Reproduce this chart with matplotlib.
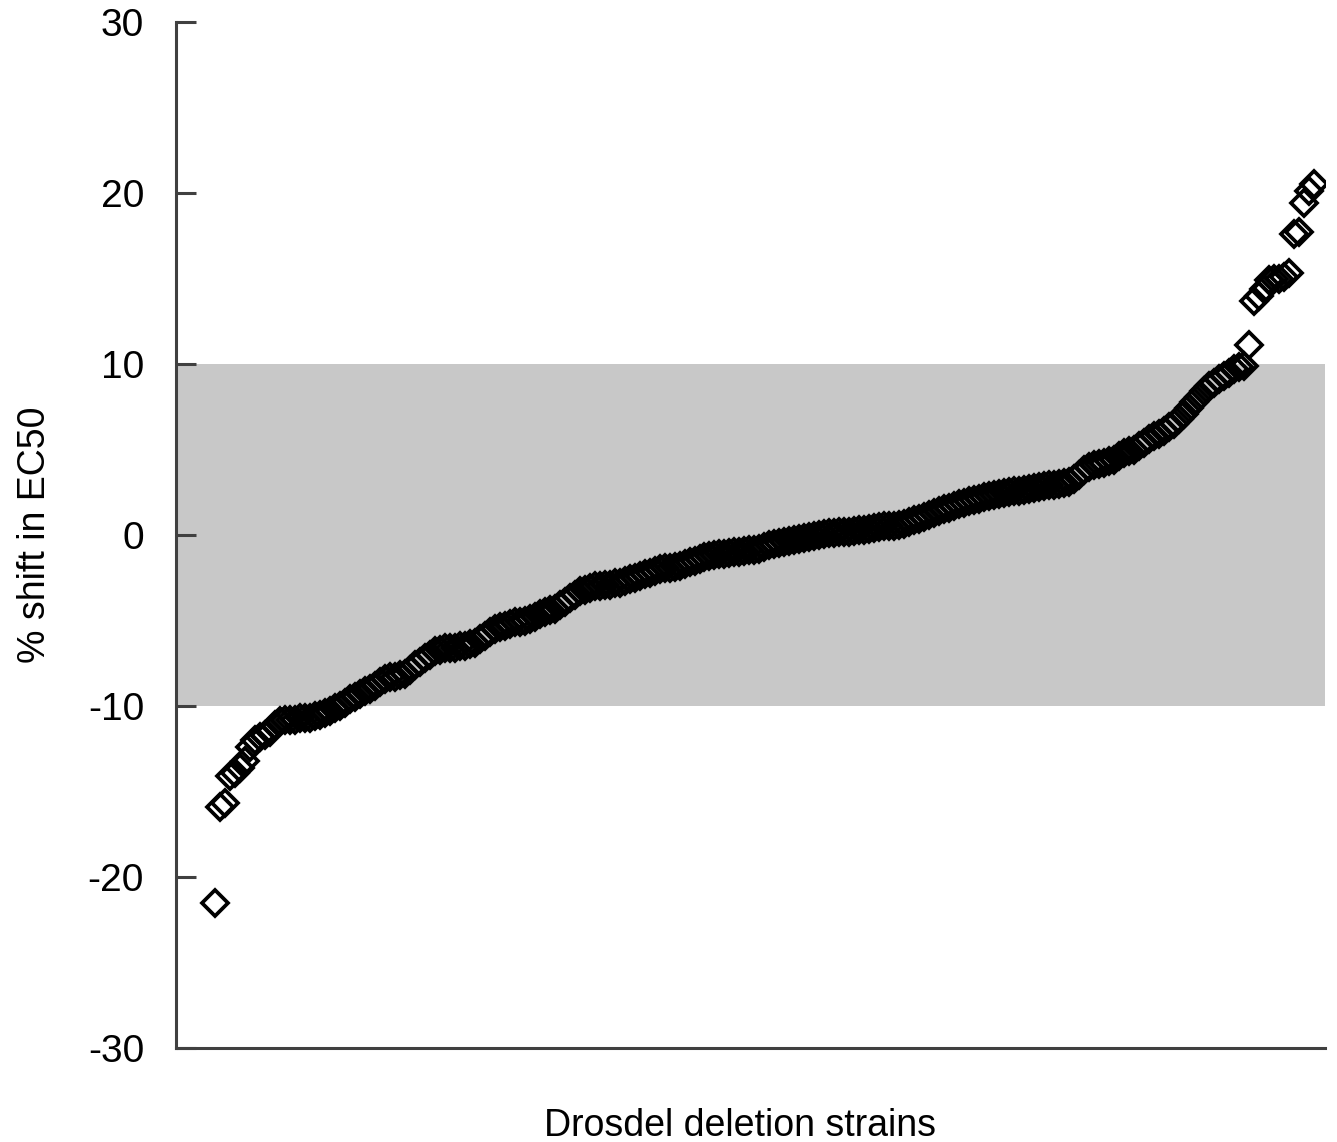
import numpy as np
import matplotlib
matplotlib.use("Agg")
import matplotlib.pyplot as plt

# % shift in EC50 for each deletion strain, sorted
shift_ec50 = [
    -21.5, -15.9, -15.7, -14.1, -13.9, -13.6, -13.2, -12.4, -12.0, -11.8,
    -11.7, -11.5, -11.1, -10.9, -10.8, -10.8, -10.8, -10.7, -10.7, -10.7,
    -10.6, -10.5, -10.4, -10.3, -10.1, -10.0, -9.8, -9.6, -9.5, -9.3,
    -9.1, -9.0, -8.8, -8.6, -8.4, -8.3, -8.3, -8.2, -8.1, -7.9,
    -7.6, -7.4, -7.2, -7.0, -6.8, -6.7, -6.6, -6.6, -6.6, -6.5,
    -6.5, -6.4, -6.3, -6.1, -5.9, -5.7, -5.5, -5.4, -5.3, -5.2,
    -5.1, -5.1, -5.0, -4.9, -4.8, -4.6, -4.5, -4.4, -4.3, -4.1,
    -3.9, -3.7, -3.5, -3.3, -3.2, -3.1, -3.0, -3.0, -2.9, -2.9,
    -2.8, -2.8, -2.7, -2.6, -2.5, -2.4, -2.3, -2.2, -2.1, -2.0,
    -1.95, -1.9, -1.85, -1.8, -1.7, -1.6, -1.5, -1.4, -1.3, -1.2,
    -1.15, -1.1, -1.1, -1.05, -1.0, -1.0, -0.95, -0.9, -0.85, -0.8,
    -0.7, -0.6, -0.5, -0.45, -0.4, -0.35, -0.3, -0.25, -0.2, -0.1,
    -0.05, 0.0, 0.05, 0.1, 0.1, 0.15, 0.2, 0.2, 0.25, 0.3,
    0.3, 0.35, 0.4, 0.45, 0.5, 0.5, 0.55, 0.6, 0.65, 0.75,
    0.85, 0.95, 1.05, 1.15, 1.3, 1.4, 1.5, 1.6, 1.7, 1.8,
    1.9, 2.0, 2.05, 2.1, 2.2, 2.3, 2.35, 2.4, 2.45, 2.5,
    2.55, 2.6, 2.65, 2.7, 2.75, 2.8, 2.85, 2.9, 2.95, 3.0,
    3.05, 3.1, 3.3, 3.5, 3.8, 4.0, 4.1, 4.15, 4.2, 4.3,
    4.4, 4.6, 4.8, 4.9, 5.0, 5.2, 5.4, 5.6, 5.8, 5.9,
    6.1, 6.3, 6.5, 6.8, 7.1, 7.4, 7.8, 8.1, 8.4, 8.7,
    8.9, 9.1, 9.3, 9.5, 9.7, 9.8, 9.9, 11.1, 13.7, 14.0,
    14.4, 14.9, 15.0, 15.0, 15.1, 15.3, 17.6, 17.7, 19.4, 20.1,
    20.5,
]
strain_rank = np.arange(len(shift_ec50))
y_ticks = [-30, -20, -10, 0, 10, 20, 30]

plt.rcParams['font.family'] = ['Liberation Sans', 'DejaVu Sans']
plt.rcParams['axes.unicode_minus'] = False

fig = plt.figure(figsize=(13.37, 11.42), dpi=100)
ax = fig.add_axes([0.1316, 0.0823, 0.8594, 0.8984])

# shaded +/-10% window
ax.axhspan(-10, 10, color='#c8c8c8', zorder=0, lw=0)

ax.plot(strain_rank, shift_ec50, linestyle='none', marker='D', ms=12.8,
        mfc='none', mec='black', mew=2.7, zorder=3)

ax.set_xlim(-7.8, len(shift_ec50) + 1.2)
ax.set_ylim(-30, 30)
ax.set_yticks(y_ticks)
ax.set_xticks([])

for side in ['top', 'right']:
    ax.spines[side].set_visible(False)
for side in ['left', 'bottom']:
    ax.spines[side].set_color('#404040')
    ax.spines[side].set_linewidth(2.2)

ax.tick_params(axis='y', direction='in', length=14.5, width=2.2,
               color='#404040', labelsize=28, pad=23)

ax.set_ylabel('% shift in EC50', fontsize=27, labelpad=25)
ax.set_xlabel('Drosdel deletion strains', fontsize=27)
ax.xaxis.set_label_coords(0.491, -0.058)

fig.savefig('out.png', dpi=100)
